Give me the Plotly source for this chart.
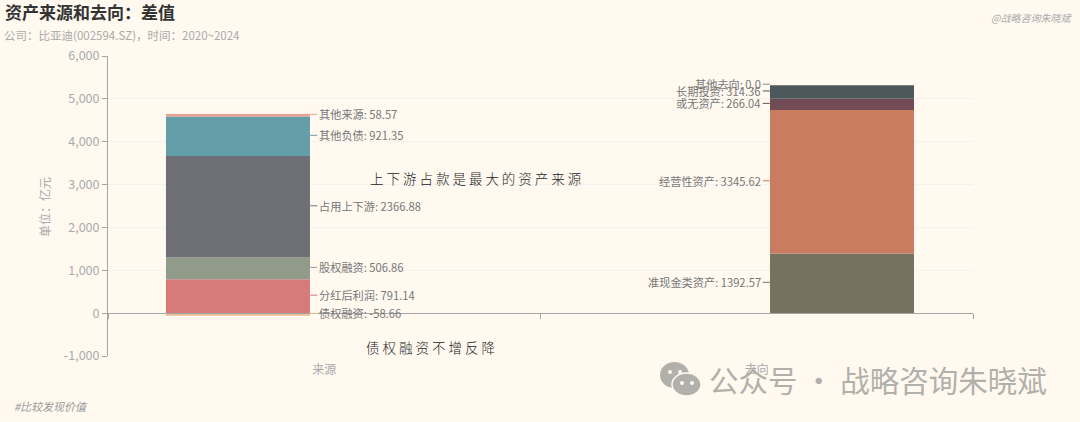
import plotly.graph_objects as go

CATEGORIES = ["来源", "去向"]
SOURCE_NAMES = ["债权融资", "分红后利润", "股权融资", "占用上下游", "其他负债", "其他来源"]
SOURCE_VALUES = [-58.66, 791.14, 506.86, 2366.88, 921.35, 58.57]
USE_NAMES = ["准现金类资产", "经营性资产", "或无资产", "长期投资", "其他去向"]
USE_VALUES = [1392.57, 3345.62, 266.04, 314.36, 0.0]
SOURCE_COLORS = ["#E8BE93", "#D77B7A", "#919B89", "#6E6F74", "#649EA9", "#E9A08F"]
USE_COLORS = ["#76725F", "#C97C60", "#714C56", "#4C585C", "#8A8A8A"]
Y_TICKS = [-1000, 0, 1000, 2000, 3000, 4000, 5000, 6000]
Y_LABELS = ["-1,000", "0", "1,000", "2,000", "3,000", "4,000", "5,000", "6,000"]

W, H = 1080, 422
L, R, T, B = 108, 973, 56, 356
BG = "#FFF9F0"
CJK = "Noto Sans CJK SC"


def px(x):
    return (x - L) / (R - L)


def py(y):
    return (B - y) / (B - T)


fig = go.Figure()
annotations = []


def add_stack(category, names, values, colors, offset, shift, ax, anchor):
    pos_total = 0.0
    neg_total = 0.0
    for name, value, color in zip(names, values, colors):
        fig.add_bar(
            x=[category], y=[value], name=name, width=0.333, offset=offset,
            marker=dict(color=color, line=dict(width=0)), showlegend=False,
        )
        if value >= 0:
            mid = pos_total + value / 2
            pos_total += value
        else:
            mid = neg_total + value / 2
            neg_total += value
        annotations.append(dict(
            x=category, y=mid, xref="x", yref="y", xshift=shift, yshift=1,
            text=f"{name}: {value}", showarrow=True, ax=ax, ay=0,
            xanchor=anchor, yanchor="middle", arrowhead=0, arrowwidth=1,
            arrowcolor=color, standoff=0, startstandoff=0,
            font=dict(family=CJK, size=11.2, color="#777777"),
        ))


add_stack(CATEGORIES[0], SOURCE_NAMES, SOURCE_VALUES, SOURCE_COLORS, -0.366, -14, 7, "left")
add_stack(CATEGORIES[1], USE_NAMES, USE_VALUES, USE_COLORS, 0.0306, 13, -7, "right")


def note(x, y, text, size, color, anchor="left", **font):
    annotations.append(dict(
        x=px(x), y=py(y), xref="paper", yref="paper", text=text, showarrow=False,
        xanchor=anchor, yanchor="middle", borderpad=0,
        font=dict(family=CJK, size=size, color=color, **font),
    ))


note(4, 11, "<b>资产来源和去向：差值</b>", 17, "#333333")
note(3, 35, "公司：比亚迪(002594.SZ)，时间：2020~2024", 11.5, "#AAAAAA")
note(990, 18, "<i>@战略咨询朱晓斌</i>", 10, "#AAAAAA")
note(13, 406, "<i>#比较发现价值</i>", 11, "#999999")
annotations.append(dict(
    x=px(44), y=py(207), xref="paper", yref="paper", text="单位：亿元", textangle=-90,
    showarrow=False, xanchor="center", yanchor="middle",
    font=dict(family=CJK, size=12, color="#AAAAAA"),
))
note(369, 178, "上 下 游 占 款 是 最 大 的 资 产 来 源", 13.5, "#222222", weight=300)
note(365, 347, "债 权 融 资 不 增 反 降", 13.5, "#222222", weight=300)
note(708, 379, "公众号 · 战略咨询朱晓斌", 29.5, "#B2B0AA")

logo = "#B2B0AA"
shapes = []


def circle(x0, y0, x1, y1, color, line=None):
    shapes.append(dict(
        type="circle", xref="paper", yref="paper", x0=px(x0), x1=px(x1), y0=py(y1), y1=py(y0),
        fillcolor=color, line=dict(width=1.5 if line else 0, color=line or color), layer="above",
    ))


circle(660, 362, 689, 388, logo)
circle(672, 373, 701, 396, logo, BG)
for x0, y0, col in [(668, 370, BG), (678, 370, BG), (680, 381, BG), (690, 381, BG)]:
    circle(x0, y0, x0 + 4, y0 + 4, col)

fig.update_layout(
    width=W, height=H, barmode="relative", paper_bgcolor=BG, plot_bgcolor=BG,
    margin=dict(l=L, r=W - R, t=T, b=H - B, autoexpand=False),
    annotations=annotations, shapes=shapes, showlegend=False,
    font=dict(family=CJK),
    xaxis=dict(
        type="category", categoryorder="array", categoryarray=CATEGORIES,
        range=[-0.5, 1.5], tickson="boundaries", ticks="outside", ticklen=5,
        tickcolor="#A5A5A5", linecolor="#A5A5A5", linewidth=1, showline=True,
        showgrid=False, anchor="free", position=1 / 7, ticklabelstandoff=45,
        tickfont=dict(family=CJK, size=12, color="#AAAAAA"),
    ),
    yaxis=dict(
        range=[-1000, 6000], tickvals=Y_TICKS, ticktext=Y_LABELS, ticks="outside", ticklen=5,
        tickcolor="#A5A5A5", linecolor="#A5A5A5", linewidth=1, showline=True,
        gridcolor="#F3F2EE", gridwidth=1, zeroline=False,
        tickfont=dict(family=CJK, size=12.5, color="#AAAAAA"),
    ),
)
fig.write_html(
    "out.html",
    config={"displayModeBar": False},
    post_script="document.body.style.margin='0';document.body.style.background='#FFF9F0';",
)
